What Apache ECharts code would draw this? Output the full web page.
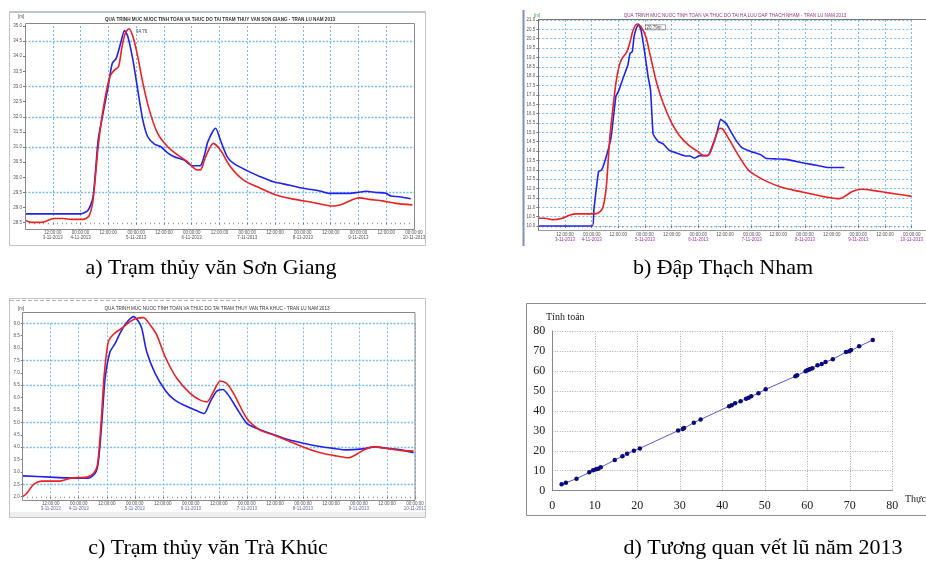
<!DOCTYPE html>
<html><head><meta charset="utf-8">
<script src="https://cdn.jsdelivr.net/npm/echarts@6/dist/echarts.min.js"></script>
<style>html,body{margin:0;padding:0;background:#fff}#c{width:926px;height:561px}</style>
</head><body><div id="c"></div>
<script>
// ---------- Panel a: Sơn Giang ----------
const sgMeasHour = [0,24,27.3,29.4,31.6,33.7,35.9,37.7,39.4,41.3,43,44.4,46.6,48.7,50.9,53,55.9,58.7,61.6,64.4,68.7,72.3,75.6,77.3,79,82.3,84.4,87.3,90.1,95.9,101.6,107.3,114.4,120.1,127.3,131.6,140.1,143.7,147.3,151.6,155.9,158,161.6,166.6];
const sgMeasLevel = [28.79,28.79,28.92,29.36,31.23,32.11,32.99,33.77,33.93,34.43,34.85,34.65,33.88,32.88,31.89,31.34,31.10,31.01,30.81,30.68,30.57,30.38,30.38,30.68,31.18,31.62,31.23,30.68,30.46,30.22,30.02,29.85,29.74,29.64,29.55,29.47,29.47,29.50,29.54,29.50,29.47,29.38,29.36,29.29];
const sgCalcHour = [0,3,8,12.3,16.6,20.1,25.1,27.6,29.4,31.6,33.7,36.6,38.7,40.4,41.9,43.3,44.9,46.6,48.7,50.9,53.7,57.3,61.6,65.9,70.1,74.4,75.9,78,81.3,84.4,88.7,94.4,101.6,108.7,115.9,124.4,133,137.3,141.6,144.4,148.7,154.4,160.1,167.3];
const sgCalcLevel = [28.57,28.51,28.52,28.64,28.64,28.61,28.61,28.72,29.25,31.01,32.22,33.32,33.55,33.65,34.32,34.76,34.91,34.65,33.99,33.11,32.22,31.45,31.01,30.74,30.52,30.24,30.25,30.68,31.12,30.90,30.35,29.91,29.64,29.41,29.28,29.17,29.05,29.12,29.27,29.32,29.27,29.22,29.14,29.09];
const sgGridLevels = [34.5,33.0,32.0,31.0,29.5];
const sgPeakLabel = '34.76';

// ---------- Panel b: Thạch Nham ----------
const tnMeasHour = [0,24.3,25,27.1,28.5,30.6,32.8,34.9,36.3,38.4,40.3,41.3,42.3,43.1,44.1,45.1,46.2,47.7,49.4,50.5,51.6,52.3,54,56.2,59,62.6,66.1,68.2,70.4,72.5,76.3,78.2,80.3,82,84.5,86.2,88.8,91.6,95.9,100.1,102.3,107.2,111.5,114.3,120,125.7,130.6,137.7];
const tnMeasLevel = [10.0,10.0,10.86,12.9,12.99,13.71,14.77,16.91,17.26,17.98,18.6,19.22,19.31,20.11,20.56,20.77,20.47,19.4,17.98,17.26,14.95,14.77,14.51,14.38,14.03,13.88,13.74,13.74,13.62,13.76,13.76,14.24,14.95,15.7,15.48,15.13,14.6,14.19,13.97,13.8,13.62,13.58,13.56,13.49,13.35,13.23,13.12,13.12];
const tnCalcHour = [0,3,6.5,10.8,14.3,17.2,20.7,25.7,27.8,29.2,30.6,32.1,33.5,34.9,36.3,37.7,39.9,41.3,42.7,44.5,46.2,48.4,50.5,53.3,56.2,59.7,63.3,67.5,71.8,74.6,76.7,78.9,81.7,83.1,86,89.5,94.5,98.7,103,108.7,114.3,121.4,128.5,135.6,137.7,141.3,145.5,151.2,156.9,165.1,168];
const tnCalcLevel = [10.41,10.41,10.33,10.41,10.59,10.65,10.65,10.65,10.77,11.04,12.1,14.6,16.2,17.62,18.51,18.95,19.31,19.84,20.47,20.79,20.64,20.11,19.04,17.62,16.55,15.57,14.86,14.33,13.97,13.76,13.8,14.42,15.22,15.16,14.6,13.88,12.99,12.64,12.37,12.1,11.93,11.75,11.57,11.46,11.57,11.84,11.96,11.89,11.78,11.64,11.58];
const tnPeakLabel = '20.79m';

// ---------- Panel c: Trà Khúc ----------
const tkMeasHour = [0,11.7,18.9,28.1,31,32.4,33.9,35.3,37.4,39.6,41.7,44.3,47.4,49.6,51,53.1,56.7,61,64.6,68.9,74.6,77.7,80.3,83.1,85.7,88.1,91.7,96,100.3,106,113.1,118.9,126,133.1,138.9,144.6,151,156,161.7,167.4];
const tkMeasLevel = [2.84,2.79,2.76,2.75,2.94,3.41,5.02,6.78,7.85,8.19,8.6,9.0,9.27,9.07,8.8,7.85,6.98,6.3,5.94,5.7,5.47,5.36,5.83,6.26,6.33,6.1,5.56,4.96,4.75,4.55,4.32,4.19,4.05,3.95,3.89,3.92,4.01,3.95,3.89,3.78];
const tkCalcHour = [0,1.7,4.6,8.1,16,21,27.4,30.3,32,33.6,34.9,36.7,38.9,42.4,46,48.9,51.7,54.6,57.4,61,66,71.7,76,78.9,81.7,84.6,87.4,90.3,96,101.7,107.4,114.6,121.7,128.9,134.6,139.6,142.4,146,150.3,156,161.7,167.4];
const tkCalcLevel = [2.0,2.13,2.49,2.63,2.63,2.76,2.79,2.94,3.27,5.02,6.91,8.26,8.56,8.8,9.07,9.2,9.23,8.93,8.53,7.65,6.78,6.17,5.9,5.83,6.24,6.67,6.57,6.17,5.16,4.69,4.49,4.22,3.95,3.74,3.64,3.57,3.68,3.88,4.01,3.95,3.87,3.84];
const tkGridLevels = [9.0,7.5,6.5,5.0,4.0,2.5];

// ---------- Panel d: flood marks correlation ----------
const markMeasured = [2.2,3.2,5.7,8.7,9.6,10.3,10.8,11.4,14.7,16.5,17.6,19.2,20.6,29.6,30.7,31.0,33.3,34.9,41.6,42.2,43.0,44.3,45.6,46.2,46.8,48.5,50.2,57.2,57.6,59.6,60.0,60.3,60.7,61.2,62.4,63.4,64.3,66.0,69.1,69.9,70.3,72.2,75.4];
const markComputed = [3.2,4.0,6.0,9.2,10.2,10.7,11.0,11.7,15.4,17.2,18.5,20.0,21.2,30.1,30.9,31.4,34.1,35.7,42.3,42.8,43.8,44.8,46.1,46.6,47.3,48.8,50.8,57.3,57.8,59.8,60.3,60.6,61.0,61.3,62.8,63.5,64.5,65.8,69.5,69.8,70.5,72.3,75.5];

const captions = ['a) Trạm thủy văn Sơn Giang','b) Đập Thạch Nham','c) Trạm thủy văn Trà Khúc','d) Tương quan vết lũ năm 2013'];
const titles = [
  'QUA TRINH MUC NUOC TINH TOAN VA THUC DO TAI TRAM THUY VAN SON GIANG - TRAN LU NAM 2013',
  'QUA TRINH MUC NUOC TINH TOAN VA THUC DO TAI HA LUU DAP THACH NHAM - TRAN LU NAM 2013',
  'QUA TRINH MUC NUOC TINH TOAN VA THUC DO TAI TRAM THUY VAN TRA KHUC - TRAN LU NAM 2013'
];

const zip = (a, b) => a.map((v, i) => [v, b[i]]);
const F = 'Liberation Sans';
const SERIF = 'Liberation Serif';
const gridBlue = '#78bdf2';

function timeLabel(h) {
  if (h === 0) return '';
  const day = 3 + Math.floor(h / 24);
  const t = h % 24 === 0 ? '00:00:00' : '12:00:00';
  if (h % 24 === 0 || h === 12) return '{t|' + t + '}\n{d|' + day + '-11-2013}';
  return '{t|' + t + '}';
}
function timeAxis(gi, margin, dateColor) {
  return {
    type: 'value', gridIndex: gi, min: 0, max: 168, interval: 12,
    axisLine: { show: false },
    axisTick: { show: true, length: 2, lineStyle: { color: '#777' } },
    minorTick: { show: true, splitNumber: 6, length: 1.5, lineStyle: { color: '#999' } },
    splitLine: { show: true, lineStyle: { color: gridBlue, type: [2, 2], width: 1 } },
    axisLabel: {
      margin: margin, formatter: timeLabel, lineHeight: 5,
      rich: { t: { fontSize: 4.5, fontFamily: F, color: '#555', lineHeight: 5 },
              d: { fontSize: 4.5, fontFamily: F, color: dateColor, lineHeight: 5 } }
    }
  };
}
function levelAxis(gi, min, max, showSplit) {
  return {
    type: 'value', gridIndex: gi, min: min, max: max, interval: 0.5,
    axisLine: { show: false },
    axisTick: { show: true, length: 2, lineStyle: { color: '#777' } },
    splitLine: { show: showSplit, lineStyle: { color: gridBlue, type: [2, 2], width: 1 } },
    axisLabel: { fontSize: 4.5, fontFamily: F, color: '#555', margin: 3, formatter: v => v.toFixed(1) }
  };
}
function hydro(name, xi, data, color, extra) {
  return Object.assign({
    name: name, type: 'line', xAxisIndex: xi, yAxisIndex: xi, data: data,
    showSymbol: false, smooth: 0.25, clip: false,
    lineStyle: { color: color, width: 1.6 }, itemStyle: { color: color }, z: 5
  }, extra || {});
}
function hLines(levels) {
  return { silent: true, symbol: 'none', label: { show: false },
    lineStyle: { color: gridBlue, type: [2, 1.5], width: 1.4 },
    data: levels.map(v => ({ yAxis: v })) };
}
function peakMark(h, v, text, boxed) {
  return { symbol: 'circle', symbolSize: 0,
    label: { show: true, formatter: text, position: 'right', offset: [2, 3], fontSize: 4.5, fontFamily: F, color: '#444',
      borderColor: boxed ? '#666' : 'transparent', borderWidth: boxed ? 0.6 : 0, padding: boxed ? [0, 4, 0, 1] : 0 },
    data: [{ coord: [h, v] }] };
}

const chart = echarts.init(document.getElementById('c'), null, { renderer: 'canvas' });
const capStyle = { fontSize: 22, fontFamily: SERIF, fill: '#000', align: 'center', verticalAlign: 'middle' };
const graphic = [
  // panel a window
  { type: 'rect', shape: { x: 9.5, y: 11.5, width: 416, height: 234 }, style: { fill: 'none', stroke: '#c4c4c4', lineWidth: 1 }, z: 1 },
  { type: 'line', shape: { x1: 10, y1: 12.5, x2: 425, y2: 12.5 }, style: { stroke: '#b9c6dc', lineWidth: 1 }, z: 1 },
  { type: 'rect', shape: { x: 25.5, y: 23.5, width: 389, height: 206 }, style: { fill: 'none', stroke: '#8a8a8a', lineWidth: 1 }, z: 10 },
  { type: 'text', x: 18, y: 14, style: { text: '[m]', fontSize: 4.5, fontFamily: F, fill: '#444' } },
  { type: 'text', x: 220, y: 20, style: { text: titles[0], fontSize: 4.6, fontWeight: 'bold', fontFamily: F, fill: '#333', align: 'center', verticalAlign: 'middle' } },
  // panel b
  { type: 'line', shape: { x1: 523.5, y1: 10, x2: 523.5, y2: 246 }, style: { stroke: '#7f90b2', lineWidth: 2 }, z: 1 },
  { type: 'line', shape: { x1: 538, y1: 19.5, x2: 926, y2: 19.5 }, style: { stroke: '#777', lineWidth: 1 }, z: 10 },
  { type: 'line', shape: { x1: 538.5, y1: 19, x2: 538.5, y2: 230 }, style: { stroke: '#777', lineWidth: 1 }, z: 10 },
  { type: 'line', shape: { x1: 538, y1: 230.5, x2: 926, y2: 230.5 }, style: { stroke: '#999', lineWidth: 1 }, z: 10 },
  { type: 'text', x: 534, y: 13, style: { text: '[m]', fontSize: 4.5, fontFamily: F, fill: '#3a9a3a' } },
  { type: 'text', x: 735, y: 16, style: { text: titles[1], fontSize: 4.6, fontFamily: F, fill: '#8a3a7a', align: 'center', verticalAlign: 'middle' } },
  // panel c window
  { type: 'rect', shape: { x: 9.5, y: 298.5, width: 416, height: 219 }, style: { fill: 'none', stroke: '#c4c4c4', lineWidth: 1 }, z: 1 },
  { type: 'line', shape: { x1: 10, y1: 300.5, x2: 240, y2: 300.5 }, style: { stroke: '#b0b0c8', lineWidth: 1.2, lineDash: [4, 2] }, z: 1 },
  { type: 'rect', shape: { x: 10, y: 512, width: 415, height: 5 }, style: { fill: '#eeeeee' }, z: 1 },
  { type: 'rect', shape: { x: 22.5, y: 312.5, width: 392.5, height: 188 }, style: { fill: 'none', stroke: '#8a8a8a', lineWidth: 1 }, z: 10 },
  { type: 'text', x: 18, y: 306, style: { text: '[m]', fontSize: 4.5, fontFamily: F, fill: '#444' } },
  { type: 'text', x: 217, y: 309, style: { text: titles[2], fontSize: 4.6, fontFamily: F, fill: '#333', align: 'center', verticalAlign: 'middle' } },
  // panel d frame
  { type: 'rect', shape: { x: 526.5, y: 303.5, width: 420, height: 212 }, style: { fill: 'none', stroke: '#8c8c8c', lineWidth: 1 }, z: 1 },
  { type: 'text', x: 546, y: 317, style: { text: 'Tính toán', fontSize: 10, fontFamily: SERIF, fill: '#222', verticalAlign: 'middle' } },
  { type: 'text', x: 905, y: 499, style: { text: 'Thực đo', fontSize: 10, fontFamily: SERIF, fill: '#222', verticalAlign: 'middle' } },
  // captions
  { type: 'text', x: 211, y: 268, style: Object.assign({ text: captions[0] }, capStyle) },
  { type: 'text', x: 723, y: 268, style: Object.assign({ text: captions[1] }, capStyle) },
  { type: 'text', x: 208, y: 548, style: Object.assign({ text: captions[2] }, capStyle) },
  { type: 'text', x: 763, y: 548, style: Object.assign({ text: captions[3] }, capStyle) }
];

const option = {
  animation: false,
  backgroundColor: '#fff',
  grid: [
    { left: 25, top: 26, width: 389, height: 196.7 },
    { left: 538.3, top: 20, width: 395, height: 206 },
    { left: 22.7, top: 323.3, width: 392.3, height: 173.4 },
    { left: 552.3, top: 331, width: 340, height: 159.7 }
  ],
  xAxis: [
    timeAxis(0, 8, '#555'),
    timeAxis(1, 6, '#a0309a'),
    timeAxis(2, 5, '#5a6aa8'),
    { type: 'value', gridIndex: 3, min: 0, max: 80, interval: 10,
      axisLine: { show: true, lineStyle: { color: '#888' } }, axisTick: { show: false },
      splitLine: { show: true, lineStyle: { color: '#a8a8a8', type: [1, 1.5] } },
      axisLabel: { fontSize: 12, fontFamily: SERIF, color: '#222', margin: 9, formatter: v => v === 0 ? '0' : String(v) } }
  ],
  yAxis: [
    levelAxis(0, 28.5, 35.0, false),
    levelAxis(1, 10.0, 21.0, true),
    levelAxis(2, 2.0, 9.0, false),
    { type: 'value', gridIndex: 3, min: 0, max: 80, interval: 10,
      axisLine: { show: true, lineStyle: { color: '#888' } }, axisTick: { show: false },
      splitLine: { show: true, lineStyle: { color: '#a8a8a8', type: [1, 1.5] } },
      axisLabel: { fontSize: 12, fontFamily: SERIF, color: '#222', margin: 7 } }
  ],
  series: [
    hydro('Thực đo', 0, zip(sgMeasHour, sgMeasLevel), '#2222ee', { markLine: hLines(sgGridLevels) }),
    hydro('Tính toán', 0, zip(sgCalcHour, sgCalcLevel), '#ee2020', { markPoint: peakMark(44.9, 34.91, sgPeakLabel, false) }),
    hydro('Thực đo', 1, zip(tnMeasHour, tnMeasLevel), '#2222ee', { smooth: 0.12, markPoint: peakMark(45.1, 20.77, tnPeakLabel, true) }),
    hydro('Tính toán', 1, zip(tnCalcHour, tnCalcLevel), '#ee2020', { smooth: 0.3 }),
    hydro('Thực đo', 2, zip(tkMeasHour, tkMeasLevel), '#2222ee', { markLine: hLines(tkGridLevels) }),
    hydro('Tính toán', 2, zip(tkCalcHour, tkCalcLevel), '#ee2020'),
    { name: 'Vết lũ', type: 'line', xAxisIndex: 3, yAxisIndex: 3, data: zip(markMeasured, markComputed),
      symbol: 'circle', symbolSize: 4.5, showSymbol: true,
      lineStyle: { color: '#5a5ac8', width: 1 }, itemStyle: { color: '#0a0a80' } }
  ],
  graphic: graphic
};
chart.setOption(option);
</script>
</body></html>
